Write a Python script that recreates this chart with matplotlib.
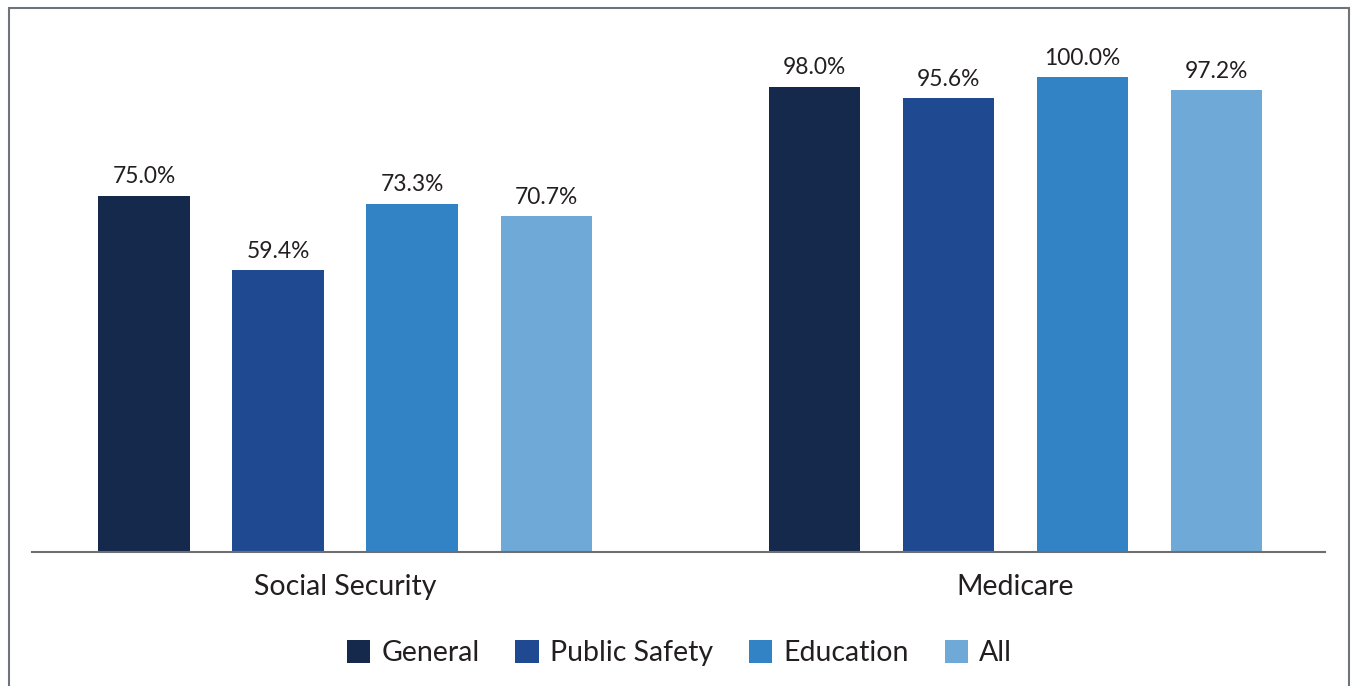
import matplotlib
matplotlib.use("Agg")
import matplotlib.pyplot as plt
from matplotlib.patches import Rectangle, Patch

plt.rcParams['font.family'] = ['Lato', 'DejaVu Sans']

categories = ["Social Security", "Medicare"]
groups = ["General", "Public Safety", "Education", "All"]
general = [75.0, 98.0]
public_safety = [59.4, 95.6]
education = [73.3, 100.0]
all_plans = [70.7, 97.2]
colors = ["#14294b", "#1f4a92", "#3183c5", "#6fa9d7"]

series = [general, public_safety, education, all_plans]

fig = plt.figure(figsize=(13.51, 6.86), dpi=100)
ax = fig.add_axes([32 / 1351, 134 / 686, 1293 / 1351, 475 / 686])

width = 0.136
step = 0.2
for i, vals in enumerate(series):
    offset = (i - 1.5) * step
    xs = [k + offset for k in range(len(categories))]
    bars = ax.bar(xs, vals, width=width, color=colors[i], label=groups[i])
    for b, v in zip(bars, vals):
        ax.annotate(f"{v:.1f}%", (b.get_x() + b.get_width() / 2, v),
                    xytext=(0, 6), textcoords="offset points",
                    ha="center", va="bottom", fontsize=16.4, color="#231f20",
                    annotation_clip=False)

ax.set_xlim(-0.467, 1.462)
ax.set_ylim(0, 100)
for s in ["top", "left", "right"]:
    ax.spines[s].set_visible(False)
ax.spines["bottom"].set_color("#6d6e71")
ax.spines["bottom"].set_linewidth(1.5)
ax.set_yticks([])
ax.set_xticks(range(len(categories)))
ax.set_xticklabels(categories, fontsize=20.5, color="#231f20")
ax.tick_params(axis="x", length=0, pad=16)

handles = [Patch(facecolor=c, edgecolor="none") for c in colors]
fig.legend(handles, groups, loc="center", bbox_to_anchor=(0.503, 0.048),
           ncol=4, frameon=False, fontsize=20.5, handlelength=0.82,
           handleheight=0.9, handletextpad=0.4, columnspacing=1.25,
           labelcolor="#231f20")

# outer frame
fig.patches.append(Rectangle((8.5 / 1351, -0.01), 1340 / 1351, (686 - 7.5) / 686 + 0.01,
                             transform=fig.transFigure, fill=False,
                             edgecolor="#707478", linewidth=1.5))

fig.savefig("out.png", dpi=100)
